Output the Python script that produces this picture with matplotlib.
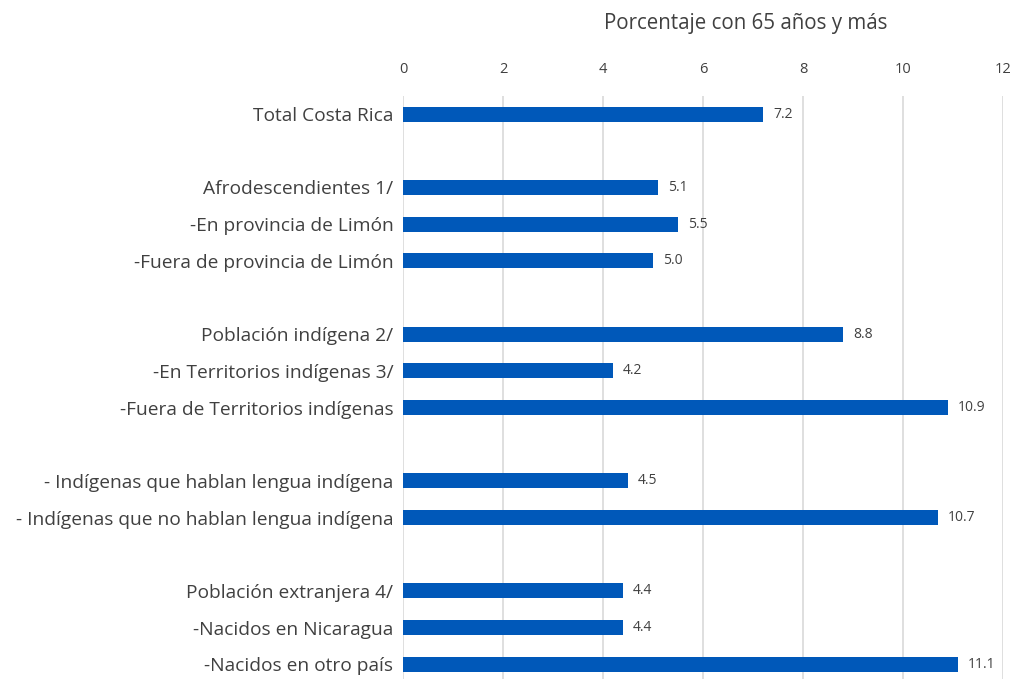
import numpy as np
import matplotlib.pyplot as plt

# Data (blank strings are spacer rows)
categories = [
    'Total Costa Rica', '',
    'Afrodescendientes 1/', '-En provincia de Limón', '-Fuera de provincia de Limón', '',
    'Población indígena 2/', '-En Territorios indígenas 3/', '-Fuera de Territorios indígenas', '',
    '- Indígenas que hablan lengua indígena', '- Indígenas que no hablan lengua indígena', '',
    'Población extranjera 4/', '-Nacidos en Nicaragua', '-Nacidos en otro país',
]
values = [7.2, None, 5.1, 5.5, 5.0, None, 8.8, 4.2, 10.9, None, 4.5, 10.7, None, 4.4, 4.4, 11.1]

x_ticks = [0, 2, 4, 6, 8, 10, 12]
title = 'Porcentaje con 65 años y más'

BAR_COLOR = '#0058B9'
TEXT_COLOR = '#404040'
GRID_COLOR = '#D9D9D9'

plt.rcParams['font.family'] = ['Open Sans', 'DejaVu Sans']

fig = plt.figure(figsize=(10.11, 6.79), dpi=100)
ax = fig.add_axes([0.3986, 0.0, 0.5935, 0.859])

pos = np.arange(len(categories))
for i, v in enumerate(values):
    if v is None:
        continue
    ax.barh(i, v, height=0.41, color=BAR_COLOR, zorder=3)
    ax.text(v + 0.2, i, f'{v:.1f}', va='center', ha='left', fontsize=10, color=TEXT_COLOR)

ax.set_xlim(0, 12)
ax.set_ylim(15.4, -0.5)
ax.set_xticks(x_ticks)
ax.xaxis.tick_top()
ax.tick_params(axis='x', length=0, labelsize=10.5, labelcolor=TEXT_COLOR, pad=13.5)
ax.set_yticks(pos)
ax.set_yticklabels(categories, fontsize=13.8, color=TEXT_COLOR)
ax.tick_params(axis='y', length=0, pad=7)
ax.grid(axis='x', color=GRID_COLOR, linewidth=1.2, zorder=0)
for s in ax.spines.values():
    s.set_visible(False)

fig.text(0.738, 0.966, title, ha='center', va='center', fontsize=14.8, color=TEXT_COLOR)

plt.savefig('out.png', dpi=100)
